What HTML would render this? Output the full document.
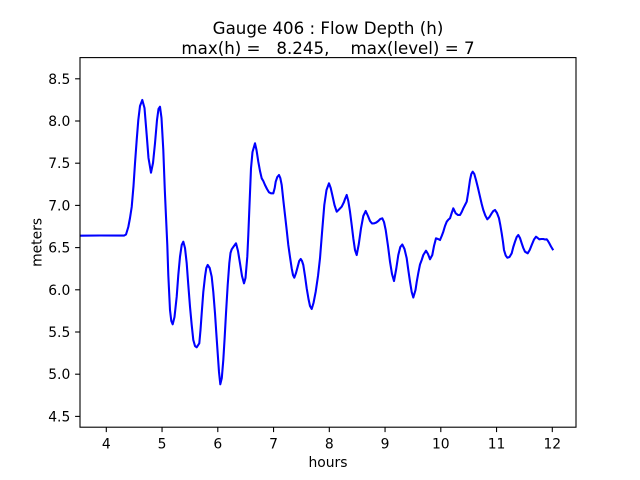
<!DOCTYPE html>
<html>
<head>
<meta charset="utf-8">
<style>
html,body{margin:0;padding:0;background:#fff;}
svg{display:block;}
text{font-family:"DejaVu Sans","Liberation Sans",sans-serif;fill:#000;}
</style>
</head>
<body>
<svg width="640" height="480" viewBox="0 0 640 480" xmlns="http://www.w3.org/2000/svg">
<rect x="0" y="0" width="640" height="480" fill="#fff"/>
<defs>
<clipPath id="ax"><rect x="80" y="57.6" width="496" height="369.6"/></clipPath>
</defs>
<g clip-path="url(#ax)">
<polyline fill="none" stroke="#0000ff" stroke-width="2.08" stroke-linejoin="round" stroke-linecap="square" points="
80,235.7 100,235.5 124,235.6 126,234.5 128.3,227 130,218 131.7,207 133.5,186 135,163.3 136.7,140 138.3,120 140,106 142.3,100 144.5,108 146.7,135 148.5,158 151,172.7 153,163 155,143.3 157,120 158.5,109 160,106.7 161.5,118 163.3,150 164.8,190 166,216.7 167.3,245 168.3,275 170,310 171.3,321 172.7,324.3 174.5,317 176.7,296.7 178.3,275 180,256.7 181.7,245 183.3,241.7 185,248 186.7,263.3 188.3,285 190,306.7 191.7,325 193.3,340 195,346 196.7,347.3 199.3,343.3 200.5,330 201.7,313.3 203.3,292 205,276.7 206.3,268 207.7,265 209.7,268 211.7,276.7 213.3,292 215,313.3 216.3,333 217.7,353.3 219,372 220.3,384.3 221.8,378 223.3,360 224.7,337 226,313.3 227.7,285 229.3,263.3 230.5,253 231.7,249.3 234,246 236,243.3 238,251 240,263.3 242,276 244,283.3 245.5,278 247.3,256.7 248.3,235 249.5,205 251,168.3 252.5,152 255,143.3 256.5,150 258.3,161.7 260,171 261.7,178.3 263.3,181 265,185 267,189 269,192.3 271,193.3 273.3,193.3 274.7,188 275.7,181.7 277.3,177 279,175 280.3,178 281.7,185 283.3,200 285,215 286.7,230 288.3,245 290,257 291.7,268.3 293,275 294.3,277.7 296,273 297.7,266.7 299.2,261 300.7,259 302,261 303.3,265 305,276 306.7,288.3 308.5,299 310,306 311.7,309 313.5,303 315.7,291.7 318,276 320,258.3 322,233 324.3,205 326.5,190 329,183.3 330.7,188 332.3,195 334.5,205 336.7,211.7 339,209.5 341.7,206.7 344,202 345,199 346.7,195 348.3,201 350,211.7 351.7,225 353.3,238.3 355,250 356.7,255 358.8,244 361,228.3 363.3,216 365.7,211 368,216 370,221 372,223.5 374.3,223.3 376.3,222.5 378.3,221 380.3,219 382.3,218.3 384,222 385.7,230 388,246 390,261.7 392,274 394,281 396.2,269 398.3,255 400.3,247 402.3,244.5 404.5,249 406.7,258.3 408.3,270 410,281.7 411.7,292 413.3,297.5 415.5,290 416.7,282 418.3,273 420,264.5 421.7,260 423.3,255 426,250.7 428,254 430,259.3 432.3,255 434,246 436,238.3 438,239 440,240 441.7,236 443.3,231.7 445,226 446.7,221.7 448.5,219.5 450,218.3 451.7,213 453.3,208.3 455.7,213.3 458,215 460,215 461.7,212 463.3,208.3 465,205 466.7,201.7 468.3,192 470,180 471.3,174 472.7,171.7 474.3,174 476,180 478,188 480,196.7 481.7,204 483.3,210 485.3,215.5 487.3,219.3 489.5,217 491.7,213.3 493.3,211 495,210 497,213 499,218.3 500.3,225 501.7,233.3 503,242 504,250 505.7,255.5 507.3,257.7 509.5,257 511.7,253.3 513.3,247 515,241.7 516.7,237 518.3,235 520,238 521.7,243.3 523.3,248 525,251.7 527.7,253.3 529.7,250 531.7,245 534,239.5 536,236.7 537.7,238 539.3,239.3 541.3,239 543.3,239 545,239.5 546.7,239.3 548,241 549.3,243.3 551,246.5 552.7,249.3"/>
</g>
<rect x="80" y="57.6" width="496" height="369.6" fill="none" stroke="#000" stroke-width="1.1"/>
<!-- x ticks -->
<g stroke="#000" stroke-width="1.1">
<line x1="106.3" y1="427.2" x2="106.3" y2="432.1"/>
<line x1="162.05" y1="427.2" x2="162.05" y2="432.1"/>
<line x1="217.8" y1="427.2" x2="217.8" y2="432.1"/>
<line x1="273.55" y1="427.2" x2="273.55" y2="432.1"/>
<line x1="329.3" y1="427.2" x2="329.3" y2="432.1"/>
<line x1="385.05" y1="427.2" x2="385.05" y2="432.1"/>
<line x1="440.8" y1="427.2" x2="440.8" y2="432.1"/>
<line x1="496.55" y1="427.2" x2="496.55" y2="432.1"/>
<line x1="552.3" y1="427.2" x2="552.3" y2="432.1"/>
<!-- y ticks -->
<line x1="75.1" y1="78.8" x2="80" y2="78.8"/>
<line x1="75.1" y1="121.0" x2="80" y2="121.0"/>
<line x1="75.1" y1="163.2" x2="80" y2="163.2"/>
<line x1="75.1" y1="205.4" x2="80" y2="205.4"/>
<line x1="75.1" y1="247.6" x2="80" y2="247.6"/>
<line x1="75.1" y1="289.8" x2="80" y2="289.8"/>
<line x1="75.1" y1="332.0" x2="80" y2="332.0"/>
<line x1="75.1" y1="374.2" x2="80" y2="374.2"/>
<line x1="75.1" y1="416.4" x2="80" y2="416.4"/>
</g>
<g font-size="13.89" text-anchor="middle">
<text x="106.3" y="448.3">4</text>
<text x="162.05" y="448.3">5</text>
<text x="217.8" y="448.3">6</text>
<text x="273.55" y="448.3">7</text>
<text x="329.3" y="448.3">8</text>
<text x="385.05" y="448.3">9</text>
<text x="440.8" y="448.3">10</text>
<text x="496.55" y="448.3">11</text>
<text x="552.3" y="448.3">12</text>
<text x="328" y="467">hours</text>
</g>
<g font-size="13.89" text-anchor="end">
<text x="70.3" y="83.8">8.5</text>
<text x="70.3" y="126.0">8.0</text>
<text x="70.3" y="168.2">7.5</text>
<text x="70.3" y="210.4">7.0</text>
<text x="70.3" y="252.6">6.5</text>
<text x="70.3" y="294.8">6.0</text>
<text x="70.3" y="337.0">5.5</text>
<text x="70.3" y="379.2">5.0</text>
<text x="70.3" y="421.4">4.5</text>
</g>
<text font-size="13.89" text-anchor="middle" transform="translate(41.5,242.4) rotate(-90)">meters</text>
<g font-size="16.67" text-anchor="middle">
<text x="328" y="34.2" xml:space="preserve">Gauge 406 : Flow Depth (h)</text>
<text x="328" y="53.8" xml:space="preserve">max(h) =   8.245,    max(level) = 7</text>
</g>
</svg>
</body>
</html>
